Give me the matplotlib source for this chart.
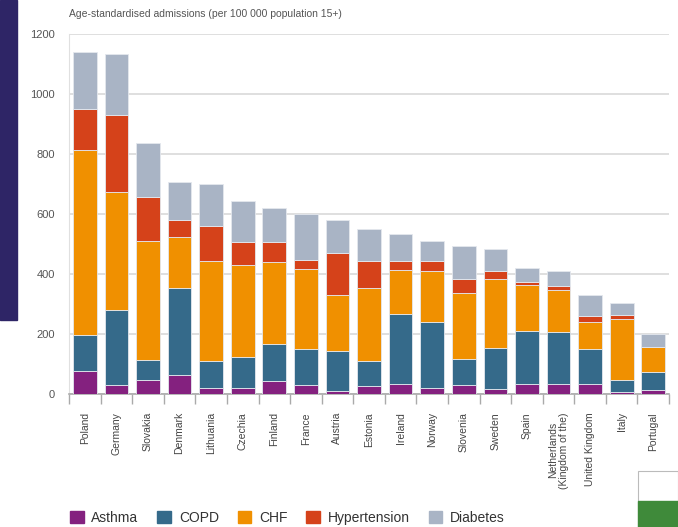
import matplotlib.pyplot as plt
import matplotlib.patches as mpatches
import numpy as np

# Dados (internações por 100 000 habitantes 15+)
countries = ['Poland', 'Germany', 'Slovakia', 'Denmark', 'Lithuania', 'Czechia',
             'Finland', 'France', 'Austria', 'Estonia', 'Ireland', 'Norway',
             'Slovenia', 'Sweden', 'Spain', 'Netherlands\n(Kingdom of the)',
             'United Kingdom', 'Italy', 'Portugal']
asthma = [78, 29, 47, 64, 21, 21, 42, 29, 11, 26, 34, 21, 30, 17, 34, 34, 34, 8, 12]
copd = [119, 252, 66, 288, 88, 101, 124, 120, 133, 83, 234, 220, 88, 135, 176, 172, 115, 39, 61]
chf = [616, 391, 397, 171, 335, 309, 273, 269, 185, 245, 145, 168, 220, 230, 154, 141, 92, 203, 85]
hypertension = [138, 257, 146, 58, 115, 75, 68, 30, 142, 89, 30, 34, 45, 28, 9, 13, 18, 13, 0]
diabetes = [190, 203, 179, 127, 140, 136, 112, 151, 109, 106, 89, 66, 109, 73, 48, 49, 70, 39, 43]

series = [('Asthma', asthma, '#84217f'),
          ('COPD', copd, '#356a8a'),
          ('CHF', chf, '#f09000'),
          ('Hypertension', hypertension, '#d5421a'),
          ('Diabetes', diabetes, '#a9b4c5')]

plt.rcParams['font.family'] = ['Liberation Sans Narrow', 'Liberation Sans', 'DejaVu Sans']

fig = plt.figure(figsize=(6.78, 5.27), dpi=100)
ax = fig.add_axes([0.1018, 0.2524, 0.885, 0.6831])

x = np.arange(len(countries))
bottom = np.zeros(len(countries))
for name, vals, color in series:
    vals = np.array(vals, dtype=float)
    ax.bar(x, vals, 0.75, bottom=bottom, color=color, edgecolor='#e4e8ee',
           linewidth=0.6, label=name, zorder=3)
    bottom += vals

ax.set_xlim(-0.5, 18.5)
ax.set_ylim(0, 1200)
ax.set_yticks(np.arange(0, 1201, 200))
ax.yaxis.grid(True, color='#dcdcdc', linewidth=1.3, zorder=0)
ax.tick_params(axis='y', length=0, pad=10, labelsize=8, labelcolor='#555555')

ax.set_xticks(x)
ax.set_xticklabels(countries, rotation=90, fontsize=7.5, color='#444444', linespacing=1.0)
ax.tick_params(axis='x', length=0, pad=13)
# marcas entre categorias
ax.set_xticks(np.arange(-0.5, 18.6, 1), minor=True)
ax.tick_params(axis='x', which='minor', length=7, color='#aaaaaa', width=1)

for s in ['top', 'right']:
    ax.spines[s].set_visible(False)
ax.spines['left'].set_color('#e0e0e0')
ax.spines['bottom'].set_color('#aaaaaa')
ax.spines['bottom'].set_linewidth(1.2)

fig.text(0.1018, 0.974, 'Age-standardised admissions (per 100 000 population 15+)',
         fontsize=7.5, color='#555555', va='center', ha='left')

handles = [mpatches.Patch(color=c, label=n) for n, _, c in series]
leg = fig.legend(handles=handles, loc='center left', bbox_to_anchor=(0.103, 0.017),
                 ncol=5, frameon=False, fontsize=10, handlelength=1.0, handleheight=1.0,
                 handletextpad=0.55, columnspacing=1.35, borderaxespad=0, borderpad=0)
for t in leg.get_texts():
    t.set_color('#333333')

# elementos do slide ao redor
fig.patches.append(mpatches.Rectangle((0, 1 - 320 / 527), 17 / 678, 320 / 527,
                                      transform=fig.transFigure, color='#2e2566', zorder=0))
fig.patches.append(mpatches.Rectangle((638 / 678, 0), 40 / 678, 56 / 527,
                                      transform=fig.transFigure, facecolor='white',
                                      edgecolor='#bbbbbb', linewidth=0.8, zorder=0))
fig.patches.append(mpatches.Rectangle((638 / 678, 0), 40 / 678, 26 / 527,
                                      transform=fig.transFigure, color='#3f8a3a', zorder=1))

fig.savefig('out.png', dpi=100)
